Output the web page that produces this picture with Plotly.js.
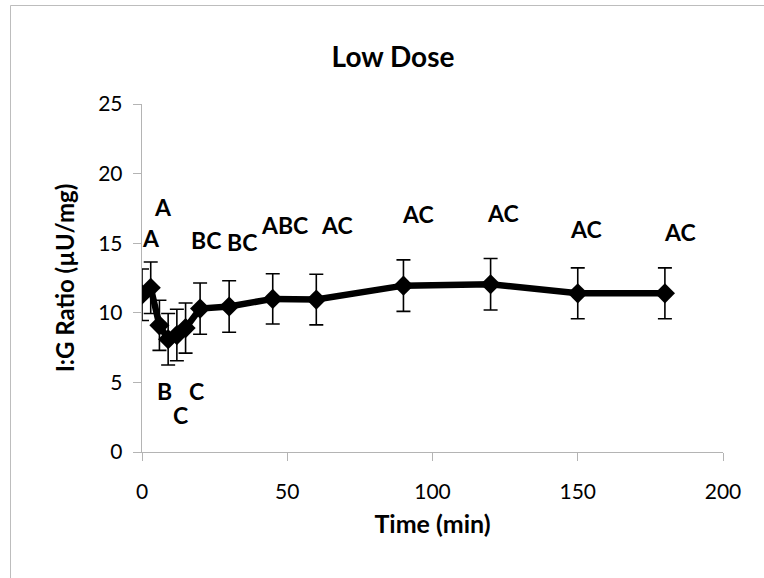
<!DOCTYPE html>
<html>
<head>
<meta charset="utf-8">
<script src="https://cdn.plot.ly/plotly-3.0.1.min.js"></script>
<style>
  html, body { margin: 0; padding: 0; background: #fff; }
  #chart { width: 764px; height: 578px; }
</style>
</head>
<body>
<div id="chart"></div>
<script>
// ---- data ----
const timeMin   = [0, 3, 6, 9, 12, 15, 20, 30, 45, 60, 90, 120, 150, 180];
const igRatio   = [11.3, 11.8, 9.1, 8.1, 8.4, 8.9, 10.3, 10.45, 11.0, 10.95, 11.95, 12.05, 11.4, 11.4];
const igError   = [1.85, 1.85, 1.8, 1.85, 1.85, 1.8, 1.84, 1.85, 1.8, 1.82, 1.85, 1.85, 1.83, 1.83];

// significance letters and where they sit (data coordinates)
const sigText = ["A", "A", "B", "C", "C", "BC", "BC", "ABC", "AC", "AC", "AC", "AC", "AC"];
const sigX    = [3.1, 7.3, 7.7, 13.1, 18.6, 22.0, 34.3, 49.2, 67.2, 95.1, 124.4, 152.8, 185.2];
const sigY    = [15.35, 17.6, 4.4, 2.66, 4.4, 15.2, 15.1, 16.3, 16.3, 17.1, 17.15, 16.0, 15.8];

const xTicks = [0, 50, 100, 150, 200];
const yTicks = [0, 5, 10, 15, 20, 25];

// ---- layout geometry ----
const W = 764, H = 578;
const M = { l: 142, r: 41, t: 104, b: 126 };
const pw = W - M.l - M.r, ph = H - M.t - M.b;
const FONT = "Lato, 'Open Sans', sans-serif";
const AXIS_GRAY = "#b4b4b4";

const trace = {
  x: timeMin,
  y: igRatio,
  type: "scatter",
  mode: "lines+markers",
  line: { color: "#000", width: 6.5 },
  marker: { symbol: "diamond", size: 15.5, color: "#000" },
  error_y: { type: "data", array: igError, visible: true, color: "#000", thickness: 1.6, width: 7 },
  hoverinfo: "x+y",
  showlegend: false
};

const annotations = sigText.map((t, i) => ({
  x: sigX[i], y: sigY[i], xref: "x", yref: "y",
  text: "<b>" + t + "</b>", showarrow: false,
  font: { family: FONT, size: 23, color: "#000" },
  xanchor: "center", yanchor: "middle"
}));

// outer frame line (left and top edges visible in the reference)
const px2paperX = p => (p - M.l) / pw;
const px2paperY = p => (H - M.b - p) / ph;
const shapes = [{
  type: "rect", xref: "paper", yref: "paper",
  x0: px2paperX(10.5), x1: px2paperX(W + 20),
  y0: px2paperY(H + 20), y1: px2paperY(5.5),
  line: { color: "#bdbdbd", width: 1 }, fillcolor: "rgba(0,0,0,0)", layer: "below"
}];

const layout = {
  width: W, height: H,
  margin: M,
  paper_bgcolor: "#fff", plot_bgcolor: "#fff",
  font: { family: FONT, color: "#000" },
  title: {
    text: "<b>Low Dose</b>",
    font: { family: FONT, size: 28, color: "#000" },
    x: 393 / W, xref: "container", xanchor: "center",
    y: 1 - 57 / H, yref: "container", yanchor: "middle"
  },
  xaxis: {
    range: [0, 200],
    tickvals: xTicks,
    ticktext: xTicks.map(String),
    ticks: "outside", ticklen: 8, tickwidth: 1, tickcolor: AXIS_GRAY,
    ticklabelstandoff: 12,
    showline: true, linecolor: AXIS_GRAY, linewidth: 1.3,
    showgrid: false, zeroline: false,
    tickfont: { family: FONT, size: 21, color: "#000" },
    title: { text: "<b>Time (min)</b>", font: { family: FONT, size: 25, color: "#000" }, standoff: 14 }
  },
  yaxis: {
    range: [0, 25],
    tickvals: yTicks,
    ticktext: yTicks.map(String),
    ticks: "outside", ticklen: 8, tickwidth: 1, tickcolor: AXIS_GRAY,
    ticklabelstandoff: 6,
    showline: true, linecolor: AXIS_GRAY, linewidth: 1.3,
    showgrid: false, zeroline: false,
    tickfont: { family: FONT, size: 21, color: "#000" },
    title: { text: "<b>I:G Ratio (µU/mg)</b>", font: { family: FONT, size: 24, color: "#000" }, standoff: 16 }
  },
  annotations: annotations,
  shapes: shapes
};

Plotly.newPlot("chart", [trace], layout, { staticPlot: true, displayModeBar: false });
</script>
</body>
</html>
